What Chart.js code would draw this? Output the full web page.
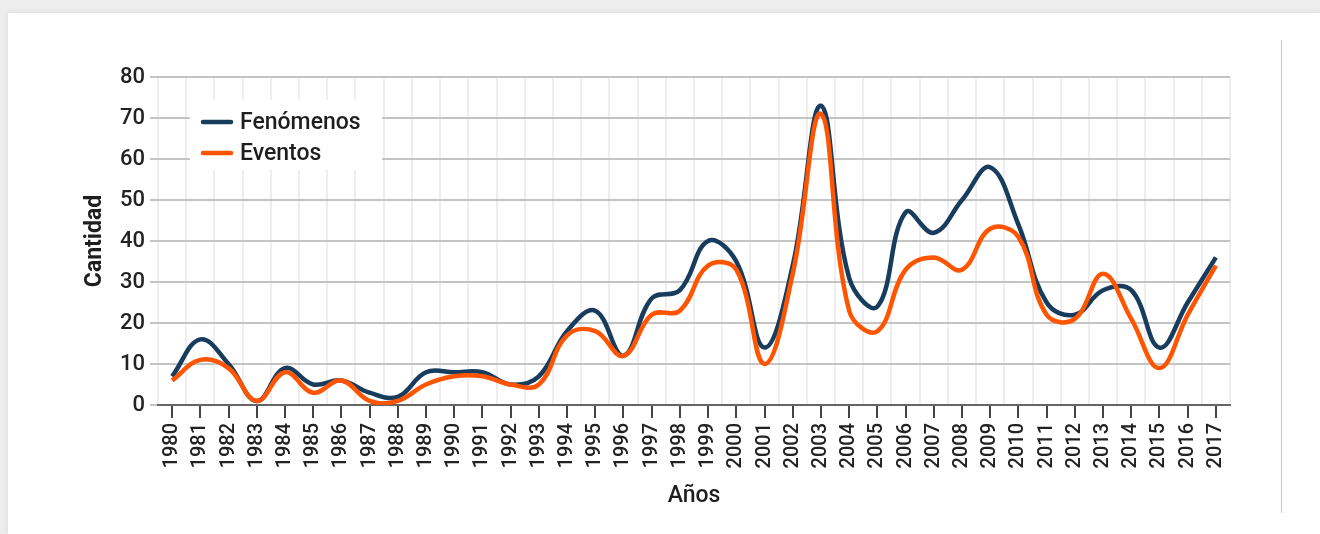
<!DOCTYPE html>
<html lang="es">
<head>
<meta charset="utf-8">
<title>Fenómenos y eventos por año</title>
<script src="https://cdn.jsdelivr.net/npm/chart.js@4.4.1/dist/chart.umd.min.js"></script>
<style>
  html, body { margin: 0; padding: 0; background: #ededed; }
  body { width: 1320px; height: 534px; position: relative; overflow: hidden; font-family: Roboto, sans-serif; }
  .tarjeta { position: absolute; left: 8px; top: 13px; right: 0; bottom: 0; background: #fff; box-shadow: 0 0 6px rgba(0,0,0,0.08); }
  .borde { position: absolute; left: 1281px; top: 40px; width: 1px; height: 473px; background: #c8c8c8; }
  #grafico { position: absolute; left: 0; top: 0; }
</style>
</head>
<body>
<div class="tarjeta"></div>
<div class="borde"></div>
<canvas id="grafico" width="1320" height="534"></canvas>
<script>
const anios = ['1980', '1981', '1982', '1983', '1984', '1985', '1986', '1987', '1988', '1989',
  '1990', '1991', '1992', '1993', '1994', '1995', '1996', '1997', '1998', '1999',
  '2000', '2001', '2002', '2003', '2004', '2005', '2006', '2007', '2008', '2009',
  '2010', '2011', '2012', '2013', '2014', '2015', '2016', '2017'];

const fenomenos = [7, 16, 10, 1, 9, 5, 6, 3, 2, 8,
  8, 8, 5, 7, 18, 23, 12, 26, 28, 40,
  35, 14, 34, 73, 31, 24, 47, 42, 50, 58,
  44, 25, 22, 28, 28, 14, 25, 36];

const eventos = [6, 11, 9, 1, 8, 3, 6, 1, 1, 5,
  7, 7, 5, 5, 17, 18, 12, 22, 23, 34,
  33, 10, 32, 71, 23, 18, 33, 36, 33, 43,
  41, 22, 21, 32, 21, 9, 22, 34];

const ticksY = [0, 10, 20, 30, 40, 50, 60, 70, 80];

const colorAzul = '#173c5e';
const colorNaranja = '#ff5400';
const fuente = 'Roboto, "Noto Sans", sans-serif';

// leyenda dentro del área del gráfico, con fondo blanco sobre la rejilla
const leyendaInterior = {
  id: 'leyendaInterior',
  beforeDatasetsDraw(chart) {
    const ctx = chart.ctx;
    const area = chart.chartArea;
    const x0 = area.left + 32;
    const y0 = area.top + 23;
    ctx.save();
    ctx.fillStyle = '#ffffff';
    ctx.fillRect(x0, y0, 192, 70);
    chart.data.datasets.forEach((ds, i) => {
      const y = y0 + 22 + i * 31;
      ctx.strokeStyle = ds.borderColor;
      ctx.lineWidth = 4.5;
      ctx.lineCap = 'round';
      ctx.beginPath();
      ctx.moveTo(x0 + 13, y);
      ctx.lineTo(x0 + 41, y);
      ctx.stroke();
      ctx.fillStyle = '#1e1e1e';
      ctx.font = '500 23px ' + fuente;
      ctx.textBaseline = 'middle';
      ctx.textAlign = 'left';
      ctx.fillText(ds.label, x0 + 50, y + 1);
    });
    ctx.restore();
  }
};

new Chart(document.getElementById('grafico'), {
  type: 'line',
  data: {
    labels: anios,
    datasets: [{
      label: 'Fenómenos',
      data: fenomenos,
      borderColor: colorAzul,
      backgroundColor: colorAzul,
      borderWidth: 4.5,
      pointRadius: 0,
      tension: 0.4,
      order: 1
    }, {
      label: 'Eventos',
      data: eventos,
      borderColor: colorNaranja,
      backgroundColor: colorNaranja,
      borderWidth: 4.5,
      pointRadius: 0,
      tension: 0.4,
      order: 0
    }]
  },
  options: {
    responsive: false,
    animation: false,
    layout: { padding: { left: 77, top: 77, right: 90, bottom: 20 } },
    plugins: {
      legend: { display: false },
      tooltip: { enabled: false }
    },
    scales: {
      x: {
        type: 'category',
        position: 'bottom',
        offset: true,
        grid: { drawOnChartArea: false, drawTicks: true, tickLength: 13, color: '#444', lineWidth: 2 },
        border: { display: true, color: '#666', width: 2 },
        ticks: {
          minRotation: 90, maxRotation: 90, autoSkip: false, padding: 5,
          color: '#222', font: { family: fuente, size: 20, weight: '500' }
        },
        title: { display: true, text: 'Años', color: '#1e1e1e', font: { family: fuente, size: 23, weight: '500' } },
        afterFit(scale) { scale.height = 109; }
      },
      xRejilla: {
        type: 'category',
        position: 'top',
        offset: true,
        grid: { offset: true, drawTicks: false, color: '#eeeeee', lineWidth: 2 },
        border: { display: false },
        ticks: { display: false },
        afterFit(scale) { scale.height = 0; }
      },
      y: {
        min: 0,
        max: 80,
        afterBuildTicks(scale) { scale.ticks = ticksY.map(v => ({ value: v })); },
        grid: { color: '#c4c4c4', lineWidth: 2, tickLength: 8 },
        border: { display: false },
        ticks: { color: '#222', padding: 5, font: { family: fuente, size: 22, weight: '500' } },
        title: { display: true, text: 'Cantidad', color: '#1e1e1e', font: { family: fuente, size: 23, weight: 'bold' } },
        afterFit(scale) { scale.width = 81; }
      }
    }
  },
  plugins: [leyendaInterior]
});
</script>
</body>
</html>
